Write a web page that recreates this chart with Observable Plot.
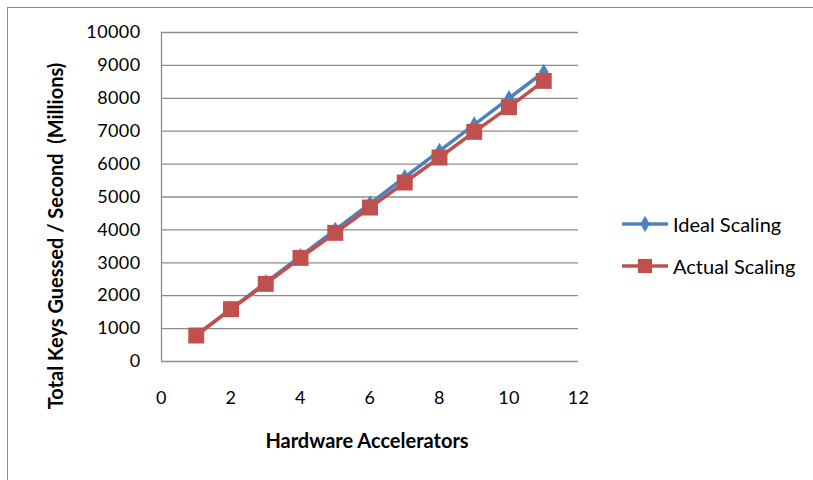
<!DOCTYPE html>
<html>
<head>
<meta charset="utf-8">
<script src="https://cdn.jsdelivr.net/npm/d3@7"></script>
<script src="https://cdn.jsdelivr.net/npm/@observablehq/plot@0.6"></script>
<style>
  html, body { margin: 0; padding: 0; background: #fff; }
  #wrap { position: relative; width: 813px; height: 480px; overflow: hidden; font-family: Lato, "Open Sans", sans-serif; color: #000; }
  #frame { position: absolute; left: 7px; top: 7px; width: 900px; height: 600px; border-left: 1px solid #8c8c8c; border-top: 1px solid #8c8c8c; }
  #chart { position: absolute; left: 0; top: 0; }
  .axis-title { position: absolute; font-weight: bold; font-size: 20px; white-space: nowrap; }
  #xtitle { left: 367px; top: 440px; transform: translate(-50%, -50%); }
  #ytitle { left: 55px; top: 236px; transform: translate(-50%, -50%) rotate(-90deg); }
  #legend { position: absolute; left: 620px; top: 210px; font-size: 20px; }
  .item { display: flex; align-items: center; height: 28px; margin-bottom: 14px; }
  .item svg { margin-right: 3px; }
</style>
</head>
<body>
<div id="wrap">
  <div id="frame"></div>
  <div id="chart"></div>
  <div class="axis-title" id="xtitle">Hardware Accelerators</div>
  <div class="axis-title" id="ytitle">Total Keys Guessed / Second&nbsp; (Millions)</div>
  <div id="legend"></div>
</div>
<script>
// Number of hardware accelerators
const accelerators = [1, 2, 3, 4, 5, 6, 7, 8, 9, 10, 11];
// Throughput, millions of keys per second
const idealScaling = [800, 1600, 2400, 3200, 4000, 4800, 5600, 6400, 7200, 8000, 8800];
const actualScaling = [790, 1590, 2360, 3150, 3910, 4680, 5440, 6200, 6980, 7730, 8530];

const yTicks = [0, 1000, 2000, 3000, 4000, 5000, 6000, 7000, 8000, 9000, 10000];
const xTicks = [0, 2, 4, 6, 8, 10, 12];

const seriesNames = ["Ideal Scaling", "Actual Scaling"];
const seriesColors = ["#4F81BD", "#C0504D"];

const ideal = accelerators.map((n, i) => ({n, v: idealScaling[i]}));
const actual = accelerators.map((n, i) => ({n, v: actualScaling[i]}));

const gridColor = "#8c8c8c";

const chart = Plot.plot({
  width: 813,
  height: 480,
  marginLeft: 161,
  marginRight: 235,
  marginTop: 32,
  marginBottom: 119,
  style: {fontFamily: "Lato, 'Open Sans', sans-serif", fontSize: "18px", letterSpacing: "0.4px", background: "transparent", color: "#000"},
  x: {domain: [0, 12]},
  y: {domain: [0, 10000]},
  marks: [
    Plot.ruleY(yTicks, {stroke: gridColor, strokeWidth: 1.3}),
    Plot.ruleX([0], {stroke: gridColor, strokeWidth: 1.3}),
    Plot.axisY({ticks: yTicks, tickSize: 0, tickPadding: 21, label: null, tickFormat: d => String(d)}),
    Plot.axisX({ticks: xTicks, tickSize: 0, tickPadding: 30, label: null, tickFormat: d => String(d)}),
    Plot.line(ideal, {x: "n", y: "v", stroke: seriesColors[0], strokeWidth: 3.5}),
    Plot.dot(ideal, {x: "n", y: "v", symbol: "diamond", r: 5, fill: seriesColors[0], stroke: "none"}),
    Plot.line(actual, {x: "n", y: "v", stroke: seriesColors[1], strokeWidth: 3.5}),
    Plot.dot(actual, {x: "n", y: "v", symbol: "square", r: 9, fill: seriesColors[1], stroke: "none"})
  ]
});
document.getElementById("chart").appendChild(chart);

// Legend with line + marker swatches
const legend = d3.select("#legend");
seriesNames.forEach((name, i) => {
  const item = legend.append("div").attr("class", "item");
  const svg = item.append("svg").attr("width", 50).attr("height", 20);
  svg.append("line").attr("x1", 2).attr("x2", 48).attr("y1", 10).attr("y2", 10)
    .attr("stroke", seriesColors[i]).attr("stroke-width", 3.5);
  const sym = i === 0 ? d3.symbolDiamond : d3.symbolSquare;
  const size = i === 0 ? Math.PI * 5 * 5 : Math.PI * 8 * 8;
  svg.append("path").attr("d", d3.symbol(sym, size)()).attr("transform", "translate(25,10)")
    .attr("fill", seriesColors[i]);
  item.append("span").text(name);
});
</script>
</body>
</html>
